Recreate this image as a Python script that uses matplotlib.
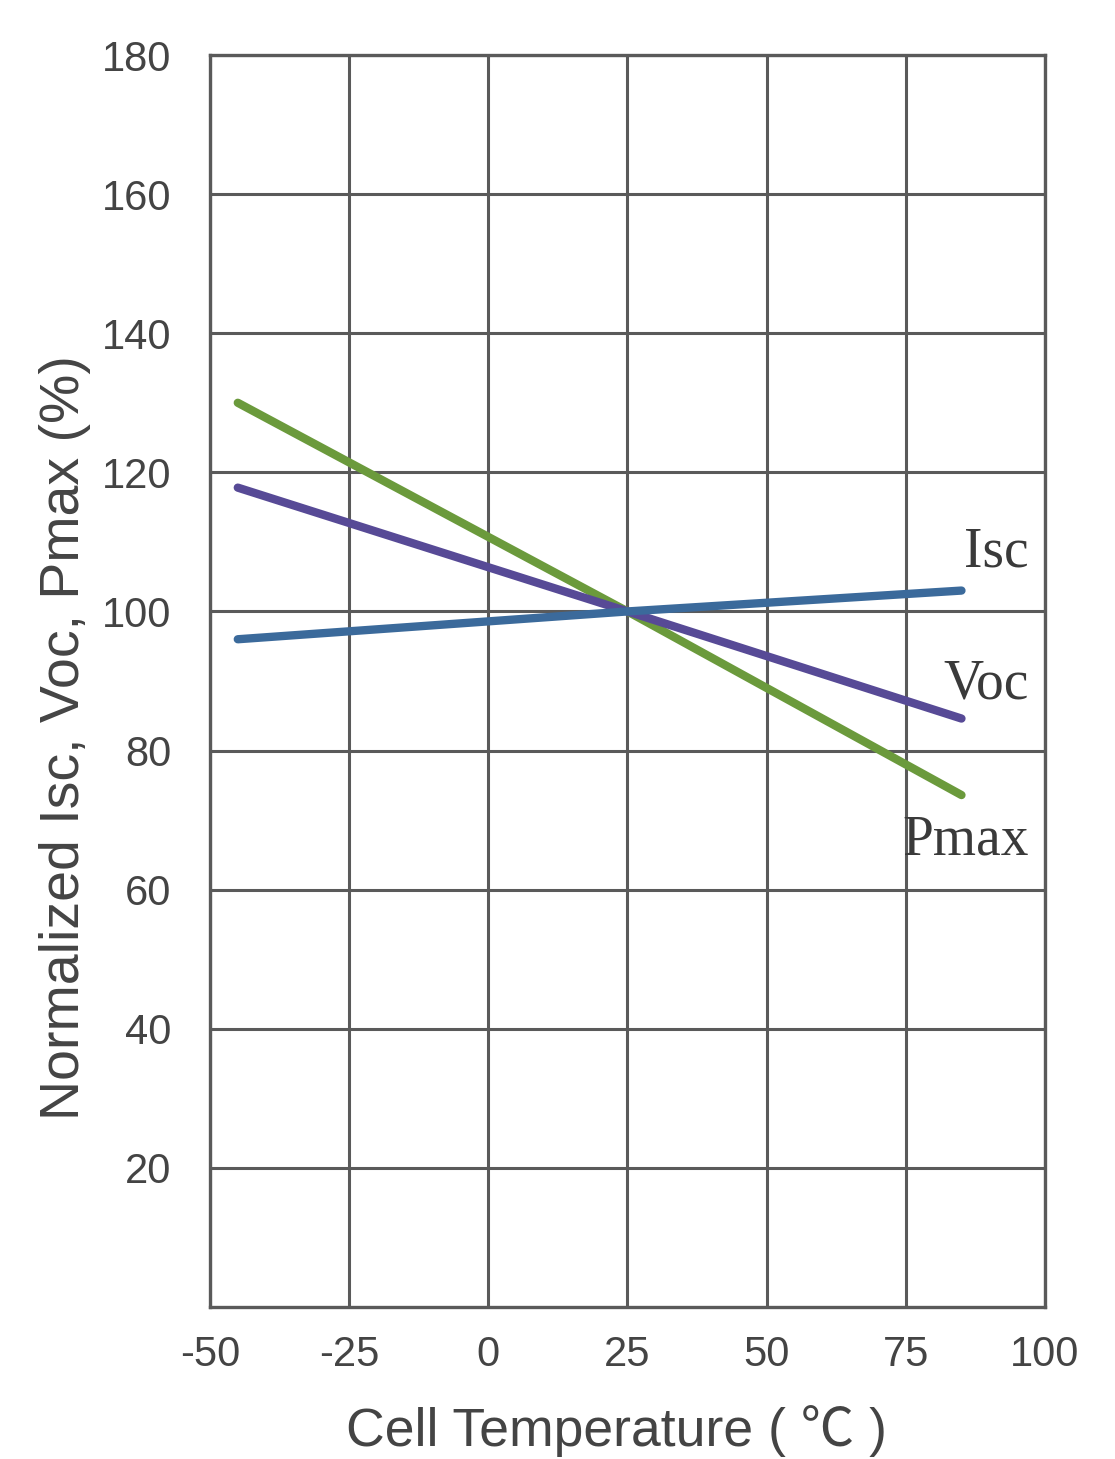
import numpy as np
import matplotlib
matplotlib.use('Agg')
import matplotlib.pyplot as plt

# data
temp = [-45, 25, 85]
isc = [96.0, 100.0, 103.0]
voc = [117.8, 100.0, 84.6]
pmax = [130.0, 100.0, 73.6]

x_ticks = [-50, -25, 0, 25, 50, 75, 100]
y_ticks = [20, 40, 60, 80, 100, 120, 140, 160, 180]

grid_col = '#5a5a5a'
text_col = '#444444'

plt.rcParams['font.family'] = ['Liberation Sans', 'DejaVu Sans']
plt.rcParams['axes.unicode_minus'] = False

fig = plt.figure(figsize=(11.15, 14.59), dpi=100)
ax = fig.add_axes([0.1883, 0.1042, 0.7489, 0.8581])

ax.plot(temp, pmax, color='#6b9a3c', lw=6, solid_capstyle='round', zorder=3)
ax.plot(temp, voc, color='#574a96', lw=6, solid_capstyle='round', zorder=4)
ax.plot(temp, isc, color='#3b6a9b', lw=6, solid_capstyle='round', zorder=5)

ax.set_xlim(-50, 100)
ax.set_ylim(0, 180)
ax.set_xticks(x_ticks)
ax.set_yticks(y_ticks)
ax.grid(True, color=grid_col, lw=2.2, zorder=1)
ax.set_axisbelow(True)
for s in ax.spines.values():
    s.set_color(grid_col)
    s.set_linewidth(2.4)

ax.tick_params(length=0, labelsize=30, labelcolor=text_col)
ax.tick_params(axis='y', pad=28)
ax.tick_params(axis='x', pad=20)

ax.set_xlabel('Cell Temperature ( \u2103 )', fontsize=38.5, color=text_col,
              family=['Liberation Sans', 'Noto Sans CJK SC', 'DejaVu Sans'])
ax.xaxis.set_label_coords(0.487, -0.078)
ax.set_ylabel('Normalized Isc, Voc, Pmax (%)', fontsize=40, color=text_col)
ax.yaxis.set_label_coords(-0.142, 0.455)

# curve labels
lab_kw = dict(family='Liberation Serif', fontsize=40, color='#3a3a3a', ha='right', va='center')
ax.text(97, 108.5, 'Isc', **lab_kw)
ax.text(97, 89.5, 'Voc', **lab_kw)
ax.text(97, 67.0, 'Pmax', **lab_kw)

fig.savefig('out.png', dpi=100, facecolor='white')
